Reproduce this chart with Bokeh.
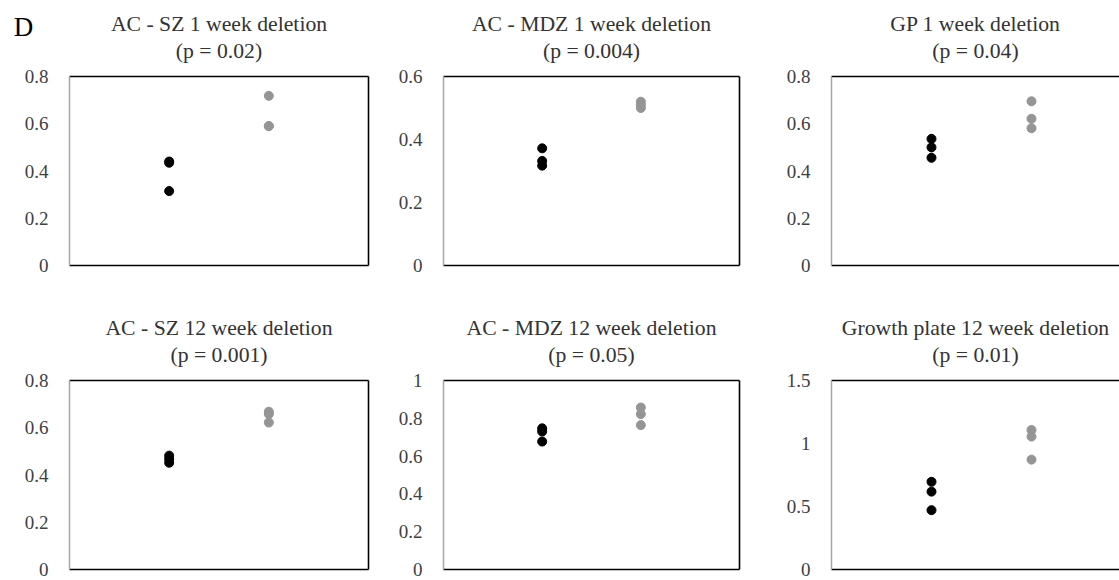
from bokeh.plotting import figure
from bokeh.layouts import column, row
from bokeh.models import Range1d, FixedTicker, LinearAxis, Label
from bokeh.embed import file_html
from bokeh.resources import INLINE

# ---- data ----
titles_line1 = [
    "AC - SZ 1 week deletion",
    "AC - MDZ 1 week deletion",
    "GP 1 week deletion",
    "AC - SZ 12 week deletion",
    "AC - MDZ 12 week deletion",
    "Growth plate 12 week deletion",
]
titles_line2 = ["(p = 0.02)", "(p = 0.004)", "(p = 0.04)",
                "(p = 0.001)", "(p = 0.05)", "(p = 0.01)"]
y_max = [0.8, 0.6, 0.8, 0.8, 1.0, 1.5]
ticks = [
    [0, 0.2, 0.4, 0.6, 0.8],
    [0, 0.2, 0.4, 0.6],
    [0, 0.2, 0.4, 0.6, 0.8],
    [0, 0.2, 0.4, 0.6, 0.8],
    [0, 0.2, 0.4, 0.6, 0.8, 1.0],
    [0, 0.5, 1.0, 1.5],
]
tick_labels = [
    ["0", "0.2", "0.4", "0.6", "0.8"],
    ["0", "0.2", "0.4", "0.6"],
    ["0", "0.2", "0.4", "0.6", "0.8"],
    ["0", "0.2", "0.4", "0.6", "0.8"],
    ["0", "0.2", "0.4", "0.6", "0.8", "1"],
    ["0", "0.5", "1", "1.5"],
]
group_x = [1, 2]  # control (black), deletion (gray)
control_vals = [
    [0.44, 0.435, 0.315],
    [0.372, 0.332, 0.317],
    [0.536, 0.50, 0.456],
    [0.482, 0.468, 0.452],
    [0.747, 0.73, 0.677],
    [0.696, 0.618, 0.471],
]
deletion_vals = [
    [0.718, 0.59, 0.59],
    [0.52, 0.51, 0.50],
    [0.695, 0.621, 0.581],
    [0.668, 0.658, 0.622],
    [0.857, 0.822, 0.764],
    [1.107, 1.055, 0.872],
]

FONT = "Liberation Serif, Times New Roman, serif"
BLACK_DOT = "#000000"
GRAY_DOT = "#959595"

# layout geometry (pixels)
col_w = [380, 390, 349]
col_bl = [69, 63, 61]
col_br = [12, 31, 0]
col_xend = [3.0, 3.0, 2.88]
row_h = [290, 290]
row_bt = [76, 90]
row_bb = [25, 11]


def bare_axis(line_color):
    ax = LinearAxis(ticker=FixedTicker(ticks=[]))
    ax.axis_line_color = line_color
    ax.axis_line_width = 1.6
    ax.major_tick_line_color = None
    ax.minor_tick_line_color = None
    ax.major_label_text_font_size = "0px"
    ax.major_tick_out = 0
    ax.major_tick_in = 0
    ax.axis_label_text_font = FONT
    ax.axis_label_text_font_size = "21.7px"
    ax.axis_label_text_font_style = "normal"
    ax.axis_label_text_color = "#333333"
    return ax


def make_panel(i):
    r, c = divmod(i, 3)
    p = figure(width=col_w[c], height=row_h[r], output_backend="svg",
               toolbar_location=None,
               x_range=Range1d(0, col_xend[c]), y_range=Range1d(0, y_max[i]),
               min_border_left=col_bl[c], min_border_right=col_br[c],
               min_border_top=row_bt[r], min_border_bottom=row_bb[r],
               x_axis_location=None, y_axis_location=None)
    p.outline_line_color = None
    p.grid.visible = False
    p.background_fill_color = "white"
    p.border_fill_color = "white"

    # left axis (gray line, tick labels)
    ya = LinearAxis(ticker=FixedTicker(ticks=ticks[i]),
                    major_label_overrides={v: s for v, s in zip(ticks[i], tick_labels[i])})
    ya.axis_line_color = "#a6a6a6"
    ya.axis_line_width = 1.5
    ya.major_tick_line_color = None
    ya.minor_tick_line_color = None
    ya.major_tick_out = 0
    ya.major_tick_in = 0
    ya.major_label_standoff = 21
    ya.major_label_text_font = FONT
    ya.major_label_text_font_size = "19px"
    ya.major_label_text_color = "#404040"
    p.add_layout(ya, "left")

    # frame lines: bottom, right (black)
    p.add_layout(bare_axis("#000000"), "below")
    if c < 2:
        p.add_layout(bare_axis("#000000"), "right")

    # top frame line carrying title line 2, and an outer line-less axis for line 1
    top = bare_axis("#000000")
    top.axis_label = titles_line2[i]
    top.axis_label_standoff = 14
    p.add_layout(top, "above")
    outer = bare_axis(None)
    outer.axis_label = titles_line1[i]
    outer.axis_label_standoff = 0
    p.add_layout(outer, "above")

    p.scatter([group_x[0]] * len(control_vals[i]), control_vals[i],
              size=9, color=BLACK_DOT)
    p.scatter([group_x[1]] * len(deletion_vals[i]), deletion_vals[i],
              size=9, color=GRAY_DOT)
    return p


panels = [make_panel(i) for i in range(6)]

# panel letter, in canvas pixels; placed in a side panel so it is not
# clipped to the plotting frame
panels[0].add_layout(Label(x=23, y=26, x_units="canvas", y_units="canvas",
                           text="D", text_font=FONT, text_font_size="27px",
                           text_align="center", text_baseline="middle",
                           text_color="#000000"), "left")

layout = column(row(*panels[:3]), row(*panels[3:]))

with open("out.html", "w") as f:
    f.write(file_html(layout, INLINE))
